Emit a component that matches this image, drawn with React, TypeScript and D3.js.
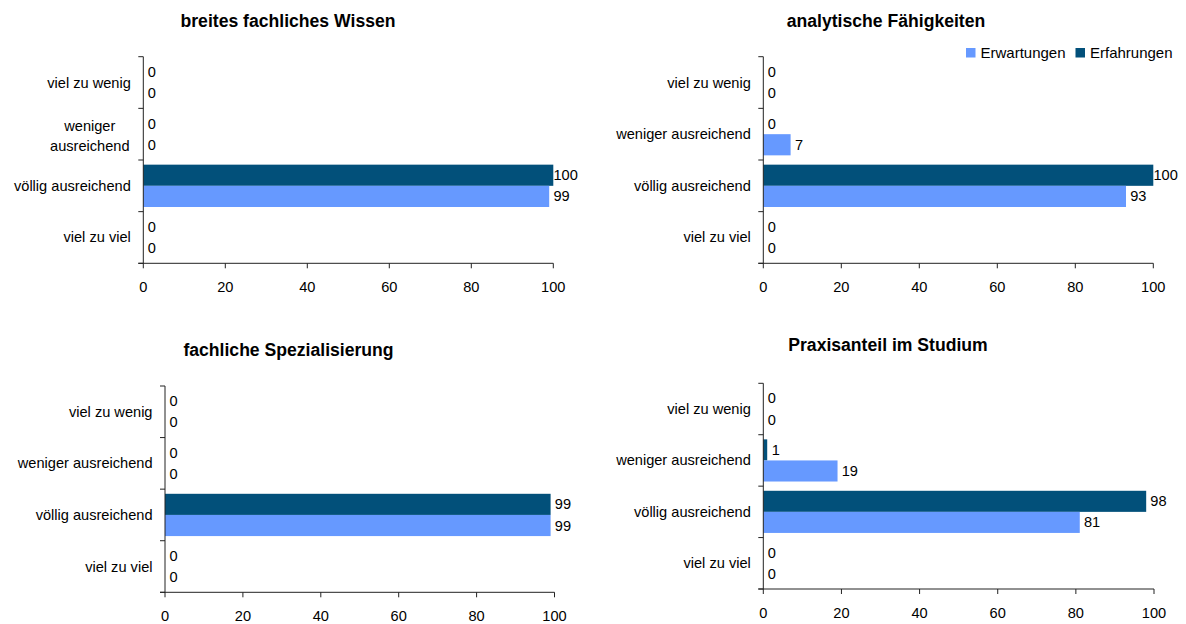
import React from "react";
import * as d3 from "d3";

const categories = ["viel zu wenig", "weniger ausreichend", "völlig ausreichend", "viel zu viel"];
const seriesNames = ["Erwartungen", "Erfahrungen"];
const xTicks = [0, 20, 40, 60, 80, 100];

const titles = [
  "breites fachliches Wissen",
  "analytische Fähigkeiten",
  "fachliche Spezialisierung",
  "Praxisanteil im Studium",
];

const erwartungen1 = [0, 0, 99, 0];
const erfahrungen1 = [0, 0, 100, 0];
const erwartungen2 = [0, 7, 93, 0];
const erfahrungen2 = [0, 0, 100, 0];
const erwartungen3 = [0, 0, 99, 0];
const erfahrungen3 = [0, 0, 99, 0];
const erwartungen4 = [0, 19, 81, 0];
const erfahrungen4 = [0, 1, 98, 0];

const COLORS: Record<string, string> = {
  Erwartungen: "#6699FF",
  Erfahrungen: "#02507A",
};

const FONT = "'Liberation Sans', Arial, Helvetica, sans-serif";
const FS = 14.6;

type PanelCfg = {
  title: string;
  erw: number[];
  erf: number[];
  x0: number;
  x1: number;
  y0: number;
  y1: number;
  tx: number;
  ty: number;
  wrapSecond: boolean;
  legend: boolean;
};

const panels: PanelCfg[] = [
  { title: titles[0], erw: erwartungen1, erf: erfahrungen1, x0: 143.3, x1: 553.3, y0: 56.7, y1: 263.3, tx: 288, ty: 21, wrapSecond: true, legend: false },
  { title: titles[1], erw: erwartungen2, erf: erfahrungen2, x0: 763.3, x1: 1153.3, y0: 56.7, y1: 263.3, tx: 886, ty: 20.5, wrapSecond: false, legend: true },
  { title: titles[2], erw: erwartungen3, erf: erfahrungen3, x0: 165, x1: 554.5, y0: 386, y1: 592.3, tx: 288.5, ty: 350, wrapSecond: false, legend: false },
  { title: titles[3], erw: erwartungen4, erf: erfahrungen4, x0: 763.3, x1: 1154, y0: 383.3, y1: 589, tx: 888, ty: 344.5, wrapSecond: false, legend: false },
];

function Panel({ p }: { p: PanelCfg }) {
  const x = d3.scaleLinear().domain([0, 100]).range([p.x0, p.x1]);
  const y = d3.scaleBand<string>().domain(categories).range([p.y0, p.y1]).padding(0);
  const inner = d3
    .scaleBand<string>()
    .domain(["Erfahrungen", "Erwartungen"])
    .range([0, y.bandwidth()])
    .paddingInner(0)
    .paddingOuter(0.22);

  const boundaries = [...categories.map((c) => y(c) as number), p.y1];

  const bars: { cat: string; s: string; v: number }[] = [];
  categories.forEach((c, i) => {
    bars.push({ cat: c, s: "Erfahrungen", v: p.erf[i] });
    bars.push({ cat: c, s: "Erwartungen", v: p.erw[i] });
  });

  return (
    <g>
      <text
        x={p.tx}
        y={p.ty}
        textAnchor="middle"
        dominantBaseline="central"
        fontFamily={FONT}
        fontWeight="bold"
        fontSize={17.6}
        fill="#000"
      >
        {p.title}
      </text>

      {bars.map((b, i) => {
        const yy = (y(b.cat) as number) + (inner(b.s) as number);
        const h = inner.bandwidth();
        const w = x(b.v) - x(0);
        const label = String(b.v);
        const off = label.length === 1 ? 8.5 : 12.3;
        return (
          <g key={i}>
            {b.v > 0 && (
              <rect x={x(0)} y={yy} width={w} height={h} fill={COLORS[b.s]} />
            )}
            <text
              x={x(b.v) + off}
              y={yy + h / 2}
              textAnchor="middle"
              dominantBaseline="central"
              fontFamily={FONT}
              fontSize={FS}
              fill="#000"
            >
              {label}
            </text>
          </g>
        );
      })}

      {/* y axis */}
      <line x1={p.x0} x2={p.x0} y1={p.y0} y2={p.y1} stroke="#222" strokeWidth={1} />
      {boundaries.map((b, i) => (
        <line key={i} x1={p.x0 - 5} x2={p.x0} y1={b} y2={b} stroke="#222" strokeWidth={1} />
      ))}
      {/* x axis */}
      <line x1={p.x0 - 5} x2={p.x1} y1={p.y1} y2={p.y1} stroke="#222" strokeWidth={1} />
      {xTicks.map((t) => (
        <g key={t}>
          <line x1={x(t)} x2={x(t)} y1={p.y1} y2={p.y1 + 5} stroke="#222" strokeWidth={1} />
          <text
            x={x(t)}
            y={p.y1 + 24}
            textAnchor="middle"
            dominantBaseline="central"
            fontFamily={FONT}
            fontSize={FS}
            fill="#000"
          >
            {t}
          </text>
        </g>
      ))}

      {/* category labels */}
      {categories.map((c, i) => {
        const cy = (y(c) as number) + y.bandwidth() / 2;
        if (p.wrapSecond && i === 1) {
          const parts = c.split(" ");
          const mid = p.x0 - 12.5 - 41;
          return (
            <g key={c}>
              <text x={mid} y={cy - 8} textAnchor="middle" dominantBaseline="central" fontFamily={FONT} fontSize={FS} fill="#000">
                {parts[0]}
              </text>
              <text x={mid} y={cy + 12} textAnchor="middle" dominantBaseline="central" fontFamily={FONT} fontSize={FS} fill="#000">
                {parts[1]}
              </text>
            </g>
          );
        }
        return (
          <text
            key={c}
            x={p.x0 - 12.5}
            y={cy}
            textAnchor="end"
            dominantBaseline="central"
            fontFamily={FONT}
            fontSize={FS}
            fill="#000"
          >
            {c}
          </text>
        );
      })}

      {p.legend && (
        <g>
          {seriesNames.map((s, i) => {
            const lx = i === 0 ? 966 : 1075.5;
            return (
              <g key={s}>
                <rect x={lx} y={48} width={9.5} height={9.5} fill={COLORS[s]} />
                <text
                  x={lx + 14.5}
                  y={52.7}
                  dominantBaseline="central"
                  fontFamily={FONT}
                  fontSize={15}
                  fill="#000"
                >
                  {s}
                </text>
              </g>
            );
          })}
        </g>
      )}
    </g>
  );
}

export default function App() {
  return (
    <svg
      width={1186}
      height={624}
      style={{ position: "absolute", left: 0, top: 0, background: "#fff" }}
    >
      <rect x={0} y={0} width={1186} height={624} fill="#fff" />
      {panels.map((p, i) => (
        <Panel key={i} p={p} />
      ))}
    </svg>
  );
}
